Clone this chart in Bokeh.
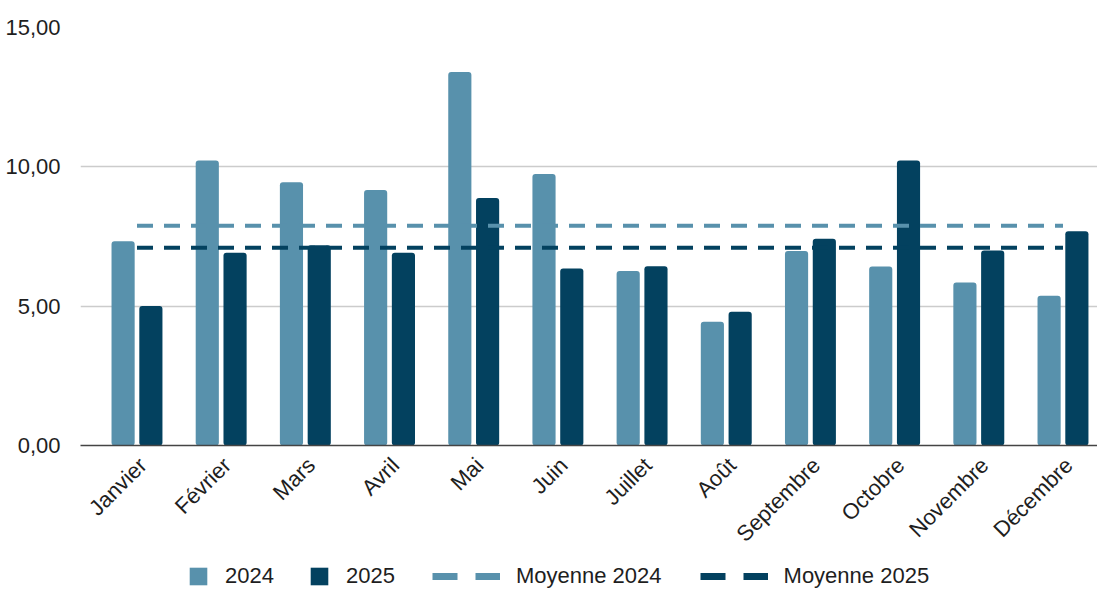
from bokeh.plotting import figure
from bokeh.layouts import column
from bokeh.models import (ColumnDataSource, FixedTicker, Legend, LegendItem, Range1d,
                          LinearAxis)
from bokeh.transform import dodge
from bokeh.embed import file_html
from bokeh.resources import INLINE
import math

months = ["Janvier", "Février", "Mars", "Avril", "Mai", "Juin", "Juillet",
          "Août", "Septembre", "Octobre", "Novembre", "Décembre"]
values_2024 = [7.33, 10.23, 9.45, 9.17, 13.40, 9.74, 6.26, 4.44, 6.98, 6.42, 5.85, 5.37]
values_2025 = [5.01, 6.92, 7.19, 6.92, 8.88, 6.35, 6.43, 4.80, 7.42, 10.23, 7.00, 7.69]
mean_2024 = 7.89
mean_2025 = 7.10
y_ticks = [0, 5, 10, 15]
y_tick_labels = ["0,00", "5,00", "10,00", "15,00"]
series_labels = ["2024", "2025", "Moyenne 2024", "Moyenne 2025"]

C24 = "#5891AC"
C25 = "#03415F"
TXT = "#1e1e1e"
FONT = "Liberation Sans"
W = 1097
X0, X1 = -0.671, 11.41
LABEL_SHIFT = 0.07

idx = list(range(len(months)))
src = ColumnDataSource(dict(idx=idx, v24=values_2024, v25=values_2025))

p = figure(width=W, height=562, output_backend="svg", toolbar_location=None,
           x_range=Range1d(X0, X1), y_range=Range1d(0, 15),
           min_border_left=80, min_border_right=0, min_border_top=27,
           min_border_bottom=117)
p.outline_line_color = None
p.extra_x_ranges = {"labels": Range1d(X0 - LABEL_SHIFT, X1 - LABEL_SHIFT)}

r24 = p.vbar(x=dodge("idx", -0.165, range=p.x_range), top="v24", width=0.275,
             bottom=0, source=src, fill_color=C24, line_color=None, border_radius=3)
r25 = p.vbar(x=dodge("idx", 0.165, range=p.x_range), top="v25", width=0.275,
             bottom=0, source=src, fill_color=C25, line_color=None, border_radius=3)

p.line(x=[idx[0], idx[-1]], y=[mean_2024, mean_2024], line_color=C24,
       line_width=4, line_dash="16 11")
p.line(x=[idx[0], idx[-1]], y=[mean_2025, mean_2025], line_color=C25,
       line_width=4, line_dash="16 11")

# x axis: base line only
p.xaxis.ticker = FixedTicker(ticks=[])
p.xaxis.major_tick_line_color = None
p.xaxis.minor_tick_line_color = None
p.xaxis.axis_line_color = "#444444"
p.xaxis.axis_line_width = 1.5
p.xaxis.major_label_text_font_size = "1px"
p.xaxis.major_label_standoff = 0

# month labels
lab_axis = LinearAxis(x_range_name="labels", ticker=FixedTicker(ticks=idx),
                      major_label_overrides={i: m for i, m in zip(idx, months)},
                      major_label_orientation=math.pi / 4,
                      major_tick_line_color=None, minor_tick_line_color=None,
                      axis_line_color=None,
                      major_label_text_font=FONT, major_label_text_font_size="22px",
                      major_label_text_color=TXT, major_label_standoff=10)
p.add_layout(lab_axis, "below")

p.yaxis.ticker = FixedTicker(ticks=y_ticks)
p.yaxis.major_label_overrides = {t: l for t, l in zip(y_ticks, y_tick_labels)}
p.yaxis.major_tick_line_color = None
p.yaxis.minor_tick_line_color = None
p.yaxis.axis_line_color = None
p.yaxis.major_label_text_font = FONT
p.yaxis.major_label_text_font_size = "22px"
p.yaxis.major_label_text_color = TXT
p.yaxis.major_label_standoff = 14

p.xgrid.grid_line_color = None
p.ygrid.grid_line_color = "#cccccc"
p.ygrid.grid_line_width = 1.5

# legend strip (separate figure so that the legend is not clipped)
lf = figure(width=W, height=28, output_backend="svg", toolbar_location=None,
            x_axis_type=None, y_axis_type=None,
            x_range=Range1d(0, 1), y_range=Range1d(0, 1),
            min_border_left=0, min_border_right=0, min_border_top=0,
            min_border_bottom=0)
lf.outline_line_color = None
lf.xgrid.grid_line_color = None
lf.ygrid.grid_line_color = None

# legend-only proxies, placed far outside the visible ranges
b24 = lf.vbar(x=[-50], bottom=[-50], top=[-49], width=1, fill_color=C24, line_color=None)
b25 = lf.vbar(x=[-50], bottom=[-50], top=[-49], width=1, fill_color=C25, line_color=None)
l24 = lf.line(x=[-50, -49], y=[-50, -50], line_color=C24, line_width=7, line_dash="25 18")
l25 = lf.line(x=[-50, -49], y=[-50, -50], line_color=C25, line_width=7, line_dash="25 18")

def make_legend(items, loc, gw, spacing):
    return Legend(items=items, location=loc, orientation="horizontal",
                  glyph_width=gw, glyph_height=22, label_height=22,
                  label_standoff=16, spacing=spacing, padding=0, margin=0,
                  border_line_alpha=0, background_fill_alpha=0,
                  label_text_font=FONT, label_text_font_size="22px",
                  label_text_color=TXT)

leg1 = make_legend([LegendItem(label=series_labels[0], renderers=[b24]),
                    LegendItem(label=series_labels[1], renderers=[b25])],
                   (107, 1), 22, 34)
leg2 = make_legend([LegendItem(label=series_labels[2], renderers=[l24]),
                    LegendItem(label=series_labels[3], renderers=[l25])],
                   (352, 1), 68, 38)
lf.add_layout(leg1)
lf.add_layout(leg2)

layout = column(p, lf, spacing=0)
open("out.html", "w").write(file_html(layout, INLINE))
